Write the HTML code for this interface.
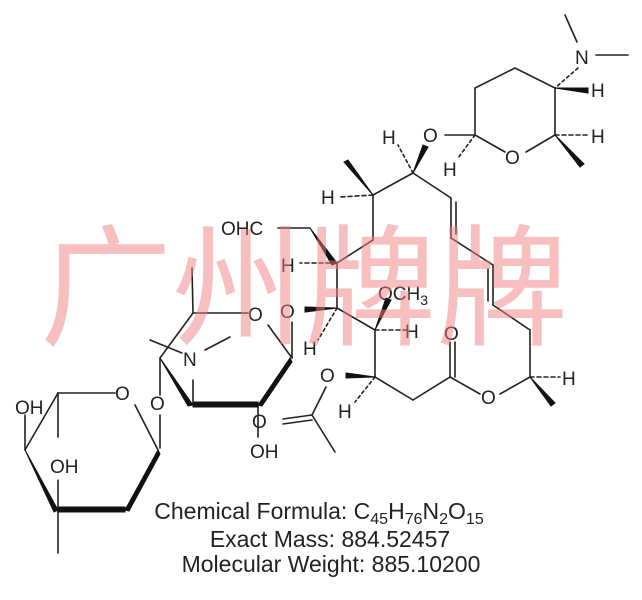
<!DOCTYPE html>
<html><head><meta charset="utf-8"><style>
html,body{margin:0;padding:0;background:#fff;}
svg{display:block;}
text{font-family:"Liberation Sans",Arial,sans-serif;fill:#222;}
</style></head><body>
<svg width="642" height="600" viewBox="0 0 642 600" xmlns="http://www.w3.org/2000/svg">
<g stroke="#222" stroke-width="1.6" fill="none" stroke-linecap="round">
<line x1="565" y1="15" x2="577" y2="42"/>
<line x1="596" y1="55" x2="628" y2="55"/>
<line x1="578" y1="68" x2="555" y2="88" stroke-dasharray="3,3"/>
<polyline points="555,88 515,68 475,88 475,135 505,152"/>
<line x1="526" y1="152" x2="555" y2="135"/>
<line x1="555" y1="135" x2="555" y2="88"/>
<line x1="555" y1="135" x2="588" y2="135" stroke-dasharray="4,3"/>
<line x1="445" y1="135" x2="475" y2="135"/>
<line x1="475" y1="135" x2="458" y2="158" stroke-dasharray="3,3"/>
<line x1="413" y1="173" x2="398" y2="145" stroke-dasharray="3,3"/>
<line x1="413" y1="173" x2="373" y2="195"/>
<line x1="373" y1="195" x2="340" y2="197" stroke-dasharray="4,3"/>
<line x1="413" y1="173" x2="451" y2="198"/>
<line x1="451" y1="198" x2="451" y2="238"/>
<line x1="456" y1="202" x2="456" y2="234"/>
<line x1="451" y1="238" x2="493" y2="265"/>
<line x1="493" y1="265" x2="493" y2="305"/>
<line x1="488" y1="269" x2="488" y2="301"/>
<line x1="493" y1="305" x2="530" y2="330"/>
<line x1="530" y1="330" x2="530" y2="377"/>
<line x1="530" y1="377" x2="560" y2="377" stroke-dasharray="4,3"/>
<line x1="530" y1="377" x2="500" y2="394"/>
<line x1="480" y1="394" x2="450" y2="377"/>
<line x1="450" y1="377" x2="450" y2="342"/>
<line x1="455" y1="377" x2="455" y2="342"/>
<line x1="450" y1="377" x2="413" y2="400"/>
<line x1="413" y1="400" x2="375" y2="377"/>
<line x1="375" y1="377" x2="355" y2="402" stroke-dasharray="3,3"/>
<line x1="375" y1="377" x2="375" y2="330"/>
<line x1="375" y1="330" x2="410" y2="330" stroke-dasharray="4,3"/>
<line x1="375" y1="330" x2="337" y2="308"/>
<line x1="337" y1="308" x2="318" y2="340" stroke-dasharray="3,3"/>
<line x1="337" y1="308" x2="337" y2="263"/>
<line x1="337" y1="263" x2="300" y2="263" stroke-dasharray="4,3"/>
<line x1="337" y1="263" x2="373" y2="240"/>
<line x1="373" y1="240" x2="373" y2="195"/>
<line x1="278" y1="228" x2="310" y2="228"/>
<line x1="192" y1="268" x2="193" y2="313"/>
<line x1="193" y1="313" x2="248" y2="313"/>
<line x1="193" y1="313" x2="160" y2="358"/>
<line x1="268" y1="325" x2="292" y2="358"/>
<line x1="292" y1="358" x2="292" y2="322"/>
<line x1="193" y1="380" x2="193" y2="405"/>
<line x1="150" y1="340" x2="182" y2="353"/>
<line x1="205" y1="350" x2="230" y2="337"/>
<line x1="160" y1="358" x2="160" y2="395"/>
<line x1="160" y1="415" x2="160" y2="448"/>
<line x1="258" y1="405" x2="258" y2="437"/>
<line x1="326" y1="387" x2="312" y2="415"/>
<line x1="312" y1="415" x2="335" y2="452"/>
<line x1="312" y1="415" x2="283" y2="419"/>
<line x1="312" y1="420" x2="283" y2="424"/>
<line x1="58" y1="393" x2="115" y2="393"/>
<line x1="58" y1="393" x2="58" y2="437"/>
<line x1="58" y1="393" x2="25" y2="450"/>
<line x1="25" y1="450" x2="25" y2="415"/>
<line x1="135" y1="405" x2="158" y2="450"/>
<line x1="58" y1="480" x2="58" y2="510"/>
<line x1="58" y1="510" x2="58" y2="553"/>
</g>
<g fill="#111" stroke="#111" stroke-width="1">
<polygon points="555,88 588,88 588,93"/>
<polygon points="555,135 584,164 580,167"/>
<polygon points="413,173 423,145 428,147"/>
<polygon points="373,195 344,162 348,160"/>
<polygon points="530,377 555,403 551,406"/>
<polygon points="375,377 346,373 346,378"/>
<polygon points="375,330 386,298 391,300"/>
<polygon points="337,308 305,307 305,312"/>
<polygon points="310,228 337,263 332,265"/>
<polygon points="160,358 193,405 188,406"/>
<rect x="193" y="402" width="65" height="5"/>
<polygon points="258,405 290,358 292,362 262,406"/>
<polygon points="25,450 58,510 54,512"/>
<rect x="58" y="507" width="67" height="5"/>
<polygon points="125,510 158,450 160,454 129,511"/>
</g>
<g font-size="19">
<text x="575" y="64">N</text>
<text x="591" y="97">H</text>
<text x="591" y="143">H</text>
<text x="505" y="164">O</text>
<text x="423" y="142">O</text>
<text x="382" y="144">H</text>
<text x="443" y="176">H</text>
<text x="321" y="204">H</text>
<text x="481" y="404">O</text>
<text x="444" y="340">O</text>
<text x="562" y="385">H</text>
<text x="320" y="382">O</text>
<text x="338" y="418">H</text>
<text x="378" y="300">OCH<tspan font-size="14" dy="5">3</tspan></text>
<text x="405" y="338">H</text>
<text x="303" y="355">H</text>
<text x="280" y="318">O</text>
<text x="281" y="272">H</text>
<text x="221" y="235">OHC</text>
<text x="248" y="321">O</text>
<text x="183" y="366">N</text>
<text x="150" y="410">O</text>
<text x="252" y="428">O</text>
<text x="250" y="458">OH</text>
<text x="115" y="400">O</text>
<text x="15" y="414">OH</text>
<text x="50" y="473">OH</text>
</g>
<g font-size="23" fill="#222" text-anchor="middle">
<text x="319" y="519">Chemical Formula: C<tspan font-size="16" dy="5">45</tspan><tspan dy="-5">H</tspan><tspan font-size="16" dy="5">76</tspan><tspan dy="-5">N</tspan><tspan font-size="16" dy="5">2</tspan><tspan dy="-5">O</tspan><tspan font-size="16" dy="5">15</tspan></text>
<text x="330" y="547">Exact Mass: 884.52457</text>
<text x="331" y="572">Molecular Weight: 885.10200</text>
</g>
<text x="40" y="335" font-size="132" fill-opacity="0.5" style="font-family:'Noto Sans CJK SC','WenQuanYi Zen Hei',sans-serif;fill:#f08080">广州牌牌</text>
</svg>
</body></html>
